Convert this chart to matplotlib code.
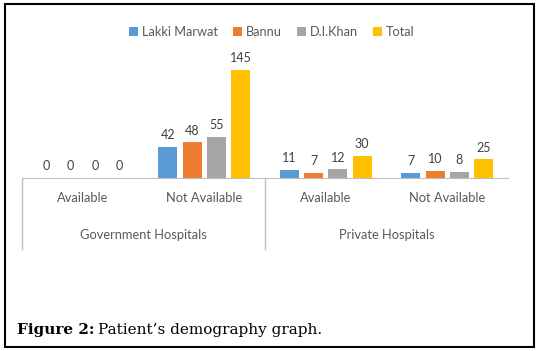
import matplotlib
import matplotlib.pyplot as plt
from matplotlib.patches import Rectangle
import numpy as np

matplotlib.use('Agg')

# Data
series_names = ['Lakki Marwat', 'Bannu', 'D.I.Khan', 'Total']
series_colors = ['#5B9BD5', '#ED7D31', '#A5A5A5', '#FFC000']
categories = ['Available', 'Not Available', 'Available', 'Not Available']
groups = ['Government Hospitals', 'Private Hospitals']
lakki_marwat = [0, 42, 11, 7]
bannu = [0, 48, 7, 10]
di_khan = [0, 55, 12, 8]
total = [0, 145, 30, 25]

W, H = 539, 351
fig = plt.figure(figsize=(W / 100, H / 100), dpi=100)
plt.rcParams['font.family'] = ['Lato', 'DejaVu Sans']

text_color = '#595959'
axis_color = '#BFBFBF'

# axes placed in pixel terms: baseline at y=178, x from 22 to 508
left, right, base, top = 22, 508, 178, 60
ax = fig.add_axes([left / W, (H - base) / H, (right - left) / W, (base - top) / H])
scale = 0.745  # px per unit
ax.set_ylim(0, (base - top) / scale)
ax.set_xlim(-0.5, len(categories) - 0.5)

x = np.arange(len(categories))
width = 0.156
pitch = 0.2
all_series = [lakki_marwat, bannu, di_khan, total]
for i, (name, vals, col) in enumerate(zip(series_names, all_series, series_colors)):
    pos = x + (i - 1.5) * pitch
    ax.bar(pos, vals, width=width, color=col, label=name)
    for p, v in zip(pos, vals):
        ax.annotate(str(v), (p, v), xytext=(0, 4), textcoords='offset points',
                    ha='center', va='bottom', fontsize=9, color='#404040')

for s in ['top', 'right', 'left']:
    ax.spines[s].set_visible(False)
ax.spines['bottom'].set_color(axis_color)
ax.set_yticks([])
ax.set_xticks([])

# category labels and group labels
for xi, cat in zip(x, categories):
    ax.text(xi, -(198 - base) / (base - top), cat, transform=ax.get_xaxis_transform(),
            ha='center', va='center', fontsize=9.3, color=text_color)
for gi, g in enumerate(groups):
    ax.text(gi * 2 + 0.5, -(235 - base) / (base - top), g, transform=ax.get_xaxis_transform(),
            ha='center', va='center', fontsize=9.3, color=text_color)

# separators
for sx in [-0.5, 1.5]:
    ax.plot([sx, sx], [0, -(249 - base) / (base - top)], transform=ax.get_xaxis_transform(),
            color=axis_color, lw=1, clip_on=False)

fig.legend(loc='center', bbox_to_anchor=(272 / W, 1 - 32 / H), ncol=4, frameon=False,
           fontsize=9.2, handlelength=0.7, handleheight=0.7, handletextpad=0.3,
           columnspacing=1.2, labelcolor=text_color)

# outer frame
fig.patches.append(Rectangle((5 / W, 4 / H), (534 - 5) / W, (347 - 4) / H,
                             transform=fig.transFigure, fill=False, edgecolor='black', lw=1.5))

# caption: bold label followed by regular text
cap_y = 1 - 330 / H
lbl = fig.text(17 / W, cap_y, 'Figure 2:', fontsize=11, fontweight='bold',
               family='DejaVu Serif', va='center', ha='left')
fig.canvas.draw()
bb = lbl.get_window_extent()
fig.text((bb.x1 + 4) / W, cap_y, 'Patient\u2019s demography graph.', fontsize=11,
         family='DejaVu Serif', va='center', ha='left')

fig.savefig('out.png', dpi=100)
